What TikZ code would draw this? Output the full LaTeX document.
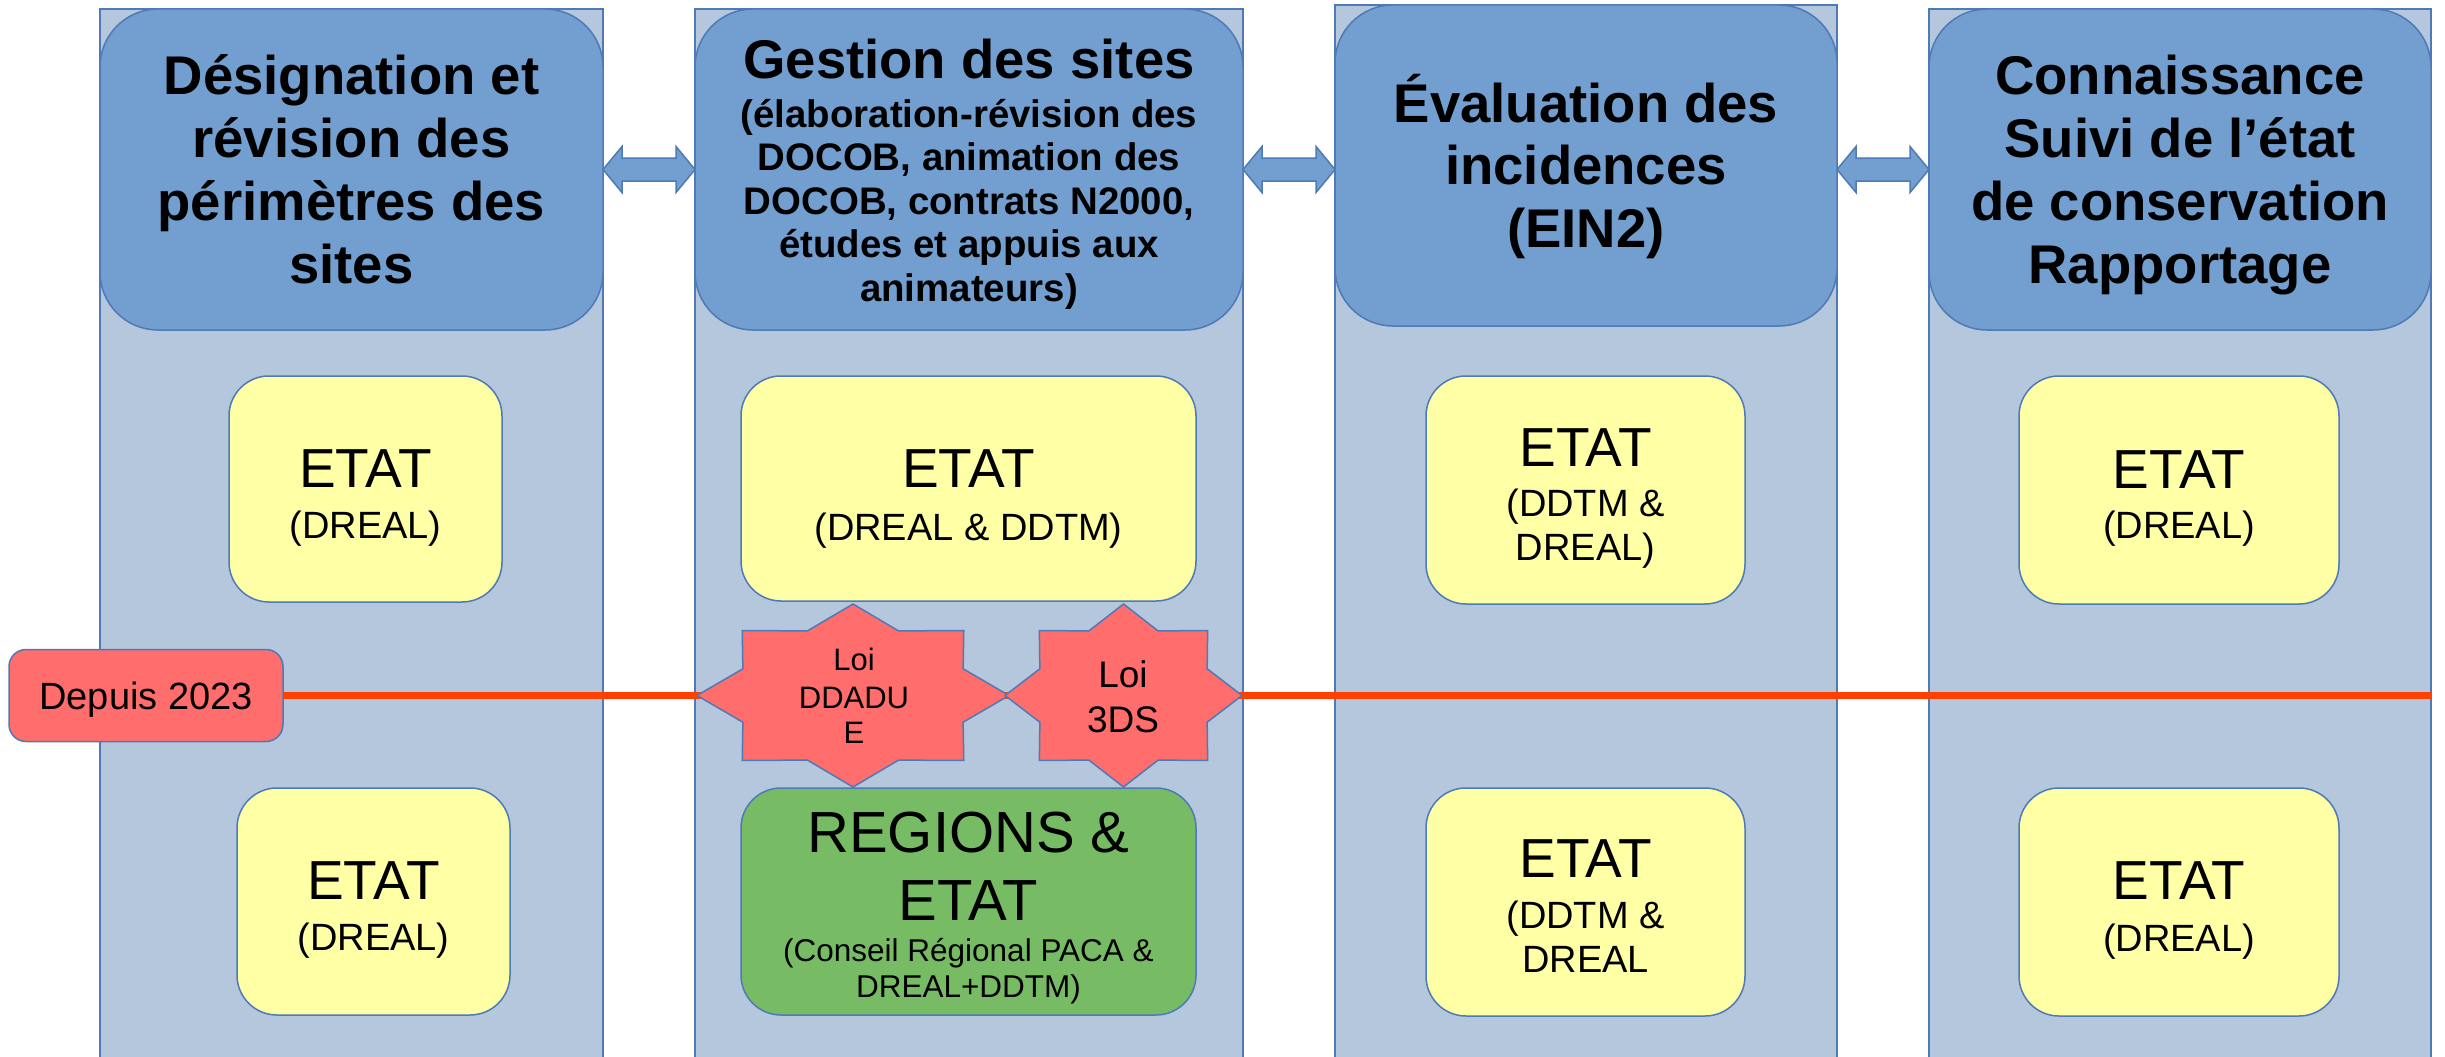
\documentclass[tikz,border=0pt]{standalone}
\usepackage{fontspec}
\setmainfont{Liberation Sans}
\usetikzlibrary{calc}
\definecolor{colbg}{HTML}{B4C7DC}
\definecolor{hdr}{HTML}{729FCF}
\definecolor{edge}{HTML}{4E7AB5}
\definecolor{ylw}{HTML}{FFFFA6}
\definecolor{grn}{HTML}{77BC65}
\definecolor{lred}{HTML}{FF6D6D}
\definecolor{rline}{HTML}{FF4000}
\newcommand\hdrf{\bfseries\fontsize{54.5}{62}\selectfont}
\newcommand\hdrsf{\bfseries\fontsize{38.4}{44}\selectfont}
\newcommand\etatf{\fontsize{55}{66}\selectfont}
\newcommand\subf{\fontsize{38}{45}\selectfont}
\newcommand\grnbigf{\fontsize{58}{70}\selectfont}
\newcommand\grnsubf{\fontsize{31.5}{38}\selectfont}
\newcommand\starAf{\fontsize{31}{37}\selectfont}
\newcommand\starBf{\fontsize{37}{44}\selectfont}
\newcommand\depf{\fontsize{38}{45}\selectfont}
\tikzset{
  colbox/.style={draw=edge, fill=colbg, line width=1.5pt, inner sep=0pt, outer sep=0pt},
  hdrbox/.style={draw=edge, fill=hdr, line width=1.5pt, rounded corners=58pt, inner sep=0pt, outer sep=0pt},
  ybox/.style={draw=edge, fill=ylw, line width=1.5pt, rounded corners=40pt, inner sep=0pt, outer sep=0pt},
  gbox/.style={draw=edge, fill=grn, line width=1.5pt, rounded corners=40pt, inner sep=0pt, outer sep=0pt},
  depbox/.style={draw=edge, fill=lred, line width=1.5pt, rounded corners=17pt, inner sep=0pt, outer sep=0pt},
  starsty/.style={draw=edge, fill=lred, line width=1.5pt, line join=miter},
  arrowsty/.style={draw=edge, fill=hdr, line width=1.5pt},
  redline/.style={draw=rline, line width=7.5pt},
  t/.style={inner sep=0pt, anchor=base},
}
\newcommand\harrow[2]{%
  \path[arrowsty] let \p1=(#1.east |- h1.center), \p2=(#2.west |- h1.center) in
  (\x1,\y1) -- (\x1+19pt,\y1+23pt) -- (\x1+19pt,\y1+11.5pt) -- (\x2-19pt,\y2+11.5pt)
  -- (\x2-19pt,\y2+23pt) -- (\x2,\y2) -- (\x2-19pt,\y2-23pt) -- (\x2-19pt,\y2-11.5pt)
  -- (\x1+19pt,\y1-11.5pt) -- (\x1+19pt,\y1-23pt) -- cycle;}
\newcommand\octostar[3]{%
  \path[starsty, shift={(#1)}, xscale=#2, yscale=#3]
  (0,1) -- (0.292,0.706) -- (0.71,0.71) -- (0.706,0.292) -- (1,0) -- (0.706,-0.292)
  -- (0.71,-0.71) -- (0.292,-0.706) -- (0,-1) -- (-0.292,-0.706) -- (-0.71,-0.71)
  -- (-0.706,-0.292) -- (-1,0) -- (-0.706,0.292) -- (-0.71,0.71) -- (-0.292,0.706) -- cycle;}
\begin{document}
\begin{tikzpicture}[x=1pt,y=-1pt]
\useasboundingbox[fill=white] (0,0) rectangle (2445,1057);
% columns
\node[colbox, minimum width=503pt, minimum height=1051pt] (c1) at (351.5,534.5) {};
\node[colbox, minimum width=548pt, minimum height=1051pt] (c2) at (969,534.5) {};
\node[colbox, minimum width=502pt, minimum height=1055pt] (c3) at (1586,532.5) {};
\node[colbox, minimum width=502pt, minimum height=1051pt] (c4) at (2180,534.5) {};
% headers
\node[hdrbox, minimum width=503pt, minimum height=321pt] (h1) at (351.5,169.5) {};
\node[hdrbox, minimum width=548pt, minimum height=321pt] (h2) at (969,169.5) {};
\node[hdrbox, minimum width=502pt, minimum height=321pt] (h3) at (1586,165.5) {};
\node[hdrbox, minimum width=502pt, minimum height=321pt] (h4) at (2180,169.5) {};
% double arrows
\harrow{h1}{h2}
\harrow{h2}{h3}
\harrow{h3}{h4}
% cell boxes
\node[ybox, minimum width=273pt, minimum height=226pt] (y1) at (365.5,489) {};
\node[ybox, minimum width=273pt, minimum height=227pt] (y2) at (373.5,901.5) {};
\node[ybox, minimum width=455pt, minimum height=225pt] (y3) at (968.5,488.5) {};
\node[gbox, minimum width=455pt, minimum height=227pt] (g1) at (968.5,901.5) {};
\node[ybox, minimum width=319pt, minimum height=228pt] (y4) at (1585.5,490) {};
\node[ybox, minimum width=319pt, minimum height=228pt] (y5) at (1585.5,902) {};
\node[ybox, minimum width=320pt, minimum height=228pt] (y6) at (2179,490) {};
\node[ybox, minimum width=320pt, minimum height=228pt] (y7) at (2179,902) {};
% timeline
\node[depbox, minimum width=274pt, minimum height=92pt] (dep) at (146,695.5) {};
\coordinate (lineend) at (2431,695.5);
\draw[redline] (dep.east) -- (lineend);
% stars
\coordinate (s1) at (853,695.5);
\coordinate (s2) at (1123.5,695.5);
\octostar{s1}{156}{91.5}
\octostar{s2}{118.5}{91.5}
% header texts
\node[t, font=\hdrf] (h1a) at (351.5,95) {Désignation et};
\node[t, font=\hdrf] (h1b) at (351.5,157.5) {révision des};
\node[t, font=\hdrf] (h1c) at (351.5,220) {périmètres des};
\node[t, font=\hdrf] (h1d) at (351.5,283) {sites};
\node[t, font=\hdrf] (h2a) at (969,78) {Gestion des sites};
\node[t, font=\hdrsf] (h2b) at (969,127) {(élaboration-révision des};
\node[t, font=\hdrsf] (h2c) at (969,170.5) {DOCOB, animation des};
\node[t, font=\hdrsf] (h2d) at (969,214) {DOCOB, contrats N2000,};
\node[t, font=\hdrsf] (h2e) at (969,257.5) {études et appuis aux};
\node[t, font=\hdrsf] (h2f) at (969,301) {animateurs)};
\node[t, font=\hdrf] (h3a) at (1586,122) {Évaluation des};
\node[t, font=\hdrf] (h3b) at (1586,184.5) {incidences};
\node[t, font=\hdrf] (h3c) at (1586,247) {(EIN2)};
\node[t, font=\hdrf] (h4a) at (2180,95) {Connaissance};
\node[t, font=\hdrf] (h4b) at (2180,157.5) {Suivi de l’état};
\node[t, font=\hdrf] (h4c) at (2180,220) {de conservation};
\node[t, font=\hdrf] (h4d) at (2180,283) {Rapportage};
% cell texts
\node[t, font=\etatf] (y1a) at (365.5,487) {ETAT};
\node[t, font=\subf] (y1b) at (365.5,538) {(DREAL)};
\node[t, font=\etatf] (y2a) at (373.5,899.5) {ETAT};
\node[t, font=\subf] (y2b) at (373.5,950.5) {(DREAL)};
\node[t, font=\etatf] (y3a) at (968.5,487) {ETAT};
\node[t, font=\subf] (y3b) at (968.5,540) {(DREAL \& DDTM)};
\node[t, font=\grnbigf] (g1a) at (968.5,852) {REGIONS \&};
\node[t, font=\grnbigf] (g1b) at (968.5,920) {ETAT};
\node[t, font=\grnsubf] (g1c) at (968.5,961) {(Conseil Régional PACA \&};
\node[t, font=\grnsubf] (g1d) at (968.5,997) {DREAL+DDTM)};
\node[t, font=\etatf] (y4a) at (1585.5,466) {ETAT};
\node[t, font=\subf] (y4b) at (1585.5,516) {(DDTM \&};
\node[t, font=\subf] (y4c) at (1585.5,560) {DREAL)};
\node[t, font=\etatf] (y5a) at (1585.5,877) {ETAT};
\node[t, font=\subf] (y5b) at (1585.5,928) {(DDTM \&};
\node[t, font=\subf] (y5c) at (1585.5,972) {DREAL};
\node[t, font=\etatf] (y6a) at (2179,488) {ETAT};
\node[t, font=\subf] (y6b) at (2179,538) {(DREAL)};
\node[t, font=\etatf] (y7a) at (2179,899) {ETAT};
\node[t, font=\subf] (y7b) at (2179,951) {(DREAL)};
% star texts
\node[t, font=\starAf] (s1a) at (854,670) {Loi};
\node[t, font=\starAf] (s1b) at (854,708) {DDADU};
\node[t, font=\starAf] (s1c) at (854,743) {E};
\node[t, font=\starBf] (s2a) at (1123,687) {Loi};
\node[t, font=\starBf] (s2b) at (1123,732) {3DS};
\node[t, font=\depf] (depa) at (146,709) {Depuis 2023};
\end{tikzpicture}
\end{document}
